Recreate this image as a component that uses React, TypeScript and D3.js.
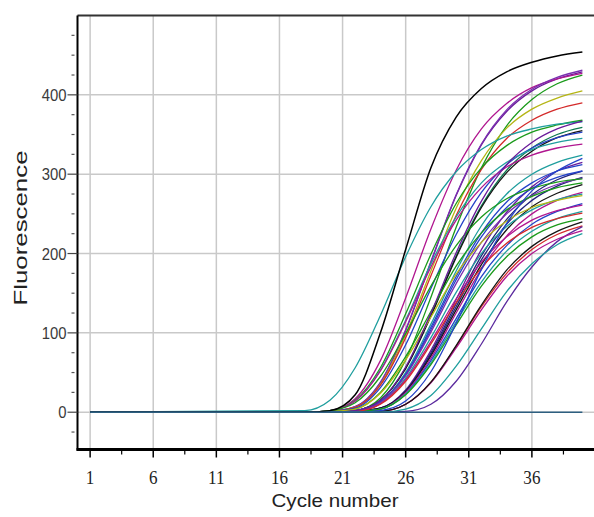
import React from "react";
import * as d3 from "d3";

// sample cycles shared by every well (flat baseline before 18)
const cycles = [1, 18, 20, 22, 24, 26, 28, 30, 32, 34, 36, 38, 40];

// fluorescence per well at the cycles above
const wellValues: number[][] = [
  [0, 0, 1, 7, 37, 103, 189, 273, 337, 379, 405, 420, 429],
  [0, 0, 2, 17, 65, 144, 231, 305, 357, 389, 409, 420, 427],
  [0, 0, 1, 7, 38, 104, 190, 274, 338, 381, 407, 422, 431],
  [0, 0, 0, 2, 18, 66, 145, 233, 308, 361, 394, 414, 425],
  [0, 0, 1, 6, 35, 98, 178, 257, 317, 358, 382, 396, 405],
  [0, 0, 1, 6, 34, 94, 172, 248, 306, 345, 368, 382, 390],
  [0, 0, 2, 15, 56, 124, 199, 263, 308, 336, 353, 362, 368],
  [0, 2, 15, 56, 122, 196, 259, 303, 331, 348, 357, 363, 366],
  [0, 0, 0, 2, 15, 56, 123, 197, 260, 305, 333, 350, 359],
  [0, 0, 0, 2, 15, 55, 121, 195, 258, 302, 329, 346, 355],
  [0, 0, 1, 5, 31, 85, 156, 224, 277, 312, 333, 346, 353],
  [0, 0, 2, 14, 53, 116, 187, 246, 289, 315, 331, 340, 345],
  [0, 0, 2, 14, 52, 114, 183, 242, 283, 309, 324, 333, 338],
  [0, 0, 0, 2, 13, 50, 111, 178, 235, 275, 300, 315, 324],
  [0, 0, 0, 1, 5, 28, 78, 142, 205, 252, 284, 304, 315],
  [0, 0, 0, 2, 13, 48, 107, 171, 226, 265, 289, 304, 312],
  [0, 0, 0, 1, 5, 27, 75, 137, 197, 243, 274, 293, 304],
  [0, 0, 0, 2, 13, 47, 104, 167, 221, 258, 282, 296, 304],
  [0, 0, 0, 1, 5, 26, 73, 133, 192, 237, 267, 285, 296],
  [0, 0, 0, 2, 12, 46, 101, 162, 214, 250, 273, 287, 295],
  [0, 0, 0, 1, 5, 26, 71, 129, 186, 230, 259, 276, 287],
  [0, 0, 1, 4, 25, 70, 127, 184, 226, 255, 272, 283, 289],
  [0, 0, 0, 1, 4, 25, 68, 125, 180, 222, 250, 267, 277],
  [0, 0, 0, 1, 11, 43, 94, 151, 200, 234, 255, 268, 275],
  [0, 0, 1, 4, 24, 66, 120, 174, 214, 241, 258, 267, 273],
  [0, 0, 0, 1, 4, 23, 65, 118, 171, 210, 237, 253, 263],
  [0, 0, 0, 1, 11, 41, 89, 143, 189, 221, 242, 254, 261],
  [0, 0, 0, 1, 4, 23, 62, 114, 164, 203, 228, 244, 253],
  [0, 0, 0, 1, 4, 22, 60, 110, 159, 196, 221, 236, 244],
  [0, 0, 0, 0, 1, 10, 38, 83, 133, 175, 205, 224, 235],
  [0, 0, 0, 0, 0, 1, 10, 39, 86, 139, 183, 215, 234],
  [0, 0, 0, 0, 1, 10, 37, 81, 129, 171, 200, 218, 229],
  [0, 0, 0, 0, 1, 10, 38, 84, 135, 179, 209, 228, 240],
  [0, 0, 0, 1, 10, 39, 86, 138, 182, 213, 233, 244, 251],
  [0, 0, 2, 12, 45, 99, 159, 210, 246, 269, 282, 290, 294],
  [0, 0, 0, 2, 15, 57, 125, 201, 266, 312, 340, 357, 367],
  [0, 0, 0, 0, 2, 14, 51, 112, 180, 238, 279, 304, 320],
  [0, 0, 0, 0, 0, 4, 21, 58, 105, 152, 187, 211, 225],
];

const wellColors = [
  "#6a1b9a", "#b0168f", "#7a2fb0", "#1a9a1a", "#b5b515", "#d42a2a",
  "#1a9a1a", "#1f9e9e", "#0e7a50", "#151515", "#2442c8", "#1f9e9e",
  "#b0168f", "#1f9e9e", "#6a1b9a", "#2442c8", "#22237a", "#2442c8",
  "#22237a", "#7a2fb0", "#151515", "#1a9a1a", "#b0168f", "#1f9e9e",
  "#b5b515", "#2442c8", "#b0168f", "#1f9e9e", "#1a9a1a", "#d42a2a",
  "#5b2a9e", "#b0168f", "#151515", "#d42a2a", "#1a9a1a", "#6a1b9a",
  "#2442c8", "#1f9e9e",
];

// standard well (black, highest plateau)
const standardValues = [0, 0, 2, 22, 100, 205, 308, 372, 408, 429, 441, 449, 454];

// no-template control, flat over the whole run
const ntcCycles = [1, 40];
const ntcValues = [0, 0];

const xTicks = [1, 6, 11, 16, 21, 26, 31, 36];
const xMinor = [3.5, 8.5, 13.5, 18.5, 23.5, 28.5, 33.5, 38.5];
const yTicks = [0, 100, 200, 300, 400];
const yMinor = [-25, 25, 50, 75, 125, 150, 175, 225, 250, 275, 325, 350, 375, 425, 450, 475];

const W = 594;
const H = 517;

export default function App() {
  const x = d3.scaleLinear().domain([0, 41]).range([77.5, 595]);
  const y = d3.scaleLinear().domain([-47, 500]).range([449.5, 15.5]);

  const line = (xs: number[], vs: number[]) =>
    d3
      .line<number>()
      .x((_, i) => x(xs[i]))
      .y((v) => y(v))
      .curve(d3.curveMonotoneX)(vs) || "";

  const left = x(0);
  const bottom = y(-47);
  const top = y(500);

  return (
    <svg
      width={W}
      height={H}
      style={{ position: "absolute", left: 0, top: 0, background: "#fff" }}
    >
      {/* grid */}
      {xTicks.map((t) => (
        <line key={"gx" + t} x1={x(t)} x2={x(t)} y1={top} y2={bottom} stroke="#c9c9c9" strokeWidth={1.5} />
      ))}
      {yTicks.map((t) => (
        <line key={"gy" + t} x1={left} x2={W} y1={y(t)} y2={y(t)} stroke="#c9c9c9" strokeWidth={1.5} />
      ))}

      {/* wells */}
      <g fill="none" strokeWidth={1.3}>
        {wellValues.map((vals, i) => (
          <path key={i} d={line(cycles, vals)} stroke={wellColors[i % wellColors.length]} />
        ))}
        <path d={line(cycles, standardValues)} stroke="#000" strokeWidth={1.5} />
        <path d={line(ntcCycles, ntcValues)} stroke="#2d5f80" strokeWidth={1.6} />
      </g>

      {/* frame */}
      <line x1={left} x2={W} y1={top} y2={top} stroke="#333" strokeWidth={2} />
      <line x1={left} x2={left} y1={top} y2={bottom + 1} stroke="#000" strokeWidth={2} />
      <line x1={left - 1} x2={W} y1={bottom} y2={bottom} stroke="#000" strokeWidth={3} />

      {/* y axis ticks */}
      {yTicks.map((t) => (
        <g key={"yt" + t}>
          <line x1={left - 10} x2={left} y1={y(t)} y2={y(t)} stroke="#444" strokeWidth={1.2} />
          <text
            transform={`translate(${left - 11},${y(t) + 6}) scale(0.9,1)`}
            textAnchor="end"
            fontFamily="Liberation Sans, Arial, sans-serif"
            fontSize={16.5}
            fill="#3a3a3a"
          >
            {t}
          </text>
        </g>
      ))}
      {yMinor.map((t) => (
        <line key={"ym" + t} x1={left - 6} x2={left - 3} y1={y(t)} y2={y(t)} stroke="#555" strokeWidth={1.2} />
      ))}

      {/* x axis ticks */}
      {xTicks.map((t) => (
        <g key={"xt" + t}>
          <line x1={x(t)} x2={x(t)} y1={bottom} y2={bottom + 8} stroke="#000" strokeWidth={1.5} />
          <text
            transform={`translate(${x(t)},${bottom + 34}) scale(0.9,1)`}
            textAnchor="middle"
            fontFamily="Liberation Serif, Times New Roman, serif"
            fontSize={19}
            fill="#222"
          >
            {t}
          </text>
        </g>
      ))}
      {xMinor.map((t) => (
        <line key={"xm" + t} x1={x(t)} x2={x(t)} y1={bottom} y2={bottom + 5} stroke="#000" strokeWidth={1.2} />
      ))}

      {/* titles */}
      <text
        x={335}
        y={507}
        textAnchor="middle"
        fontFamily="Liberation Sans, Arial, sans-serif"
        fontSize={19}
        fill="#222"
        textLength={127}
        lengthAdjust="spacingAndGlyphs"
      >
        Cycle number
      </text>
      <text
        transform="translate(27,228) rotate(-90)"
        textAnchor="middle"
        fontFamily="Liberation Sans, Arial, sans-serif"
        fontSize={19}
        fill="#222"
        textLength={155}
        lengthAdjust="spacingAndGlyphs"
      >
        Fluorescence
      </text>
    </svg>
  );
}
